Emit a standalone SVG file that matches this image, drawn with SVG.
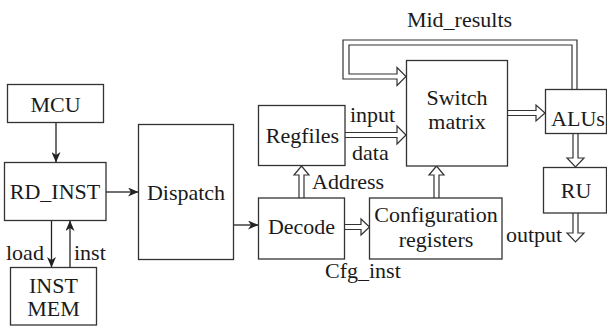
<svg xmlns="http://www.w3.org/2000/svg" width="607" height="326" viewBox="0 0 607 326">
  <defs>
    <marker id="ah" markerWidth="11" markerHeight="9" refX="10" refY="4.5" orient="auto" markerUnits="userSpaceOnUse">
      <path d="M0,0 L10.5,4.5 L0,9 L3,4.5 z" fill="#222"/>
    </marker>
    <style>
      .box { fill: #fff; stroke: #333; stroke-width: 1.3; }
      .lbl { font-size: 22px; fill: #1a1a1a; }
      .mid { text-anchor: middle; }
      .thin { fill: none; stroke: #222; stroke-width: 1.3; marker-end: url(#ah); }
      .bus { fill: #fff; stroke: #333; stroke-width: 1.2; stroke-linejoin: miter; }
    </style>
  </defs>
  <rect width="607" height="326" fill="#fff"/>

  <!-- connectors -->
  <g id="connectors">
    <!-- single-line control arrows -->
    <line class="thin" x1="56" y1="123" x2="56" y2="162"/>
    <line class="thin" x1="106" y1="192" x2="138" y2="192"/>
    <line class="thin" x1="233" y1="225" x2="258" y2="225"/>
    <line class="thin" x1="51.5" y1="221" x2="51.5" y2="267"/>
    <line class="thin" x1="70" y1="267" x2="70" y2="221"/>

    <!-- hollow bus arrows -->
    <!-- Mid_results feedback: ALUs back into Switch matrix -->
    <path class="bus" d="M577,89 V40 H343 V79 H397 V85.5 L406,76.5 L397,67.5 V74 H349 V45 H572 V89"/>
    <!-- Regfiles to Switch matrix -->
    <path class="bus" d="M345,132.5 H397 V126 L406,135 L397,144 V137.5 H345"/>
    <!-- Switch matrix to ALUs -->
    <path class="bus" d="M508,110.5 H536 V105 L545,113 L536,121 V115.5 H508"/>
    <!-- ALUs to RU -->
    <path class="bus" d="M573,133 V158 H567 L575.5,167 L584,158 H578 V133"/>
    <!-- RU output -->
    <path class="bus" d="M573,213 V233 H567 L575.5,242 L584,233 H578 V213"/>
    <!-- Decode to Regfiles (Address) -->
    <path class="bus" d="M299,198 V175 H294 L301.5,166 L309,175 H304 V198"/>
    <!-- Configuration registers to Switch matrix -->
    <path class="bus" d="M434,198 V175 H429 L436.5,166 L444,175 H439 V198"/>
    <!-- Decode to Configuration registers (Cfg_inst) -->
    <path class="bus" d="M345,224.5 H361 V219 L369.5,227 L361,235 V229.5 H345"/>
  </g>

  <g font-family="'Liberation Serif', 'DejaVu Serif', serif">
  <!-- nodes -->
  <g id="mcu">
    <rect class="box" x="7.5" y="84.5" width="96" height="38"/>
    <text class="lbl mid" x="55.5" y="112">MCU</text>
  </g>
  <g id="rd_inst">
    <rect class="box" x="4.5" y="162.5" width="101.5" height="58"/>
    <text class="lbl mid" x="55" y="199">RD_INST</text>
  </g>
  <g id="inst_mem">
    <rect class="box" x="10.5" y="267.5" width="86" height="57.5"/>
    <text class="lbl mid" x="53.5" y="293">INST</text>
    <text class="lbl mid" x="53.5" y="316">MEM</text>
  </g>
  <g id="dispatch">
    <rect class="box" x="138.5" y="124.5" width="95" height="135"/>
    <text class="lbl mid" x="186" y="200">Dispatch</text>
  </g>
  <g id="regfiles">
    <rect class="box" x="258.5" y="105.5" width="86.5" height="60"/>
    <text class="lbl mid" x="302.5" y="143">Regfiles</text>
  </g>
  <g id="decode">
    <rect class="box" x="258.5" y="198" width="86" height="61"/>
    <text class="lbl mid" x="301.5" y="234">Decode</text>
  </g>
  <g id="switch_matrix">
    <rect class="box" x="406.5" y="60.5" width="101" height="105.5"/>
    <text class="lbl mid" x="457" y="105">Switch</text>
    <text class="lbl mid" x="457" y="129">matrix</text>
  </g>
  <g id="config_registers">
    <rect class="box" x="369.5" y="198" width="132.5" height="61"/>
    <text class="lbl mid" x="436" y="222">Configuration</text>
    <text class="lbl mid" x="436" y="247">registers</text>
  </g>
  <g id="alus">
    <rect class="box" x="545.5" y="89.5" width="61" height="44"/>
    <text class="lbl mid" x="578" y="126">ALUs</text>
  </g>
  <g id="ru">
    <rect class="box" x="543.5" y="167.5" width="63" height="45.5"/>
    <text class="lbl mid" x="576" y="198">RU</text>
  </g>

  <!-- connector labels -->
  <g id="labels">
    <text class="lbl mid" x="459.5" y="27">Mid_results</text>
    <text class="lbl" x="350" y="122">input</text>
    <text class="lbl" x="352" y="160">data</text>
    <text class="lbl" x="312" y="189">Address</text>
    <text class="lbl" x="325" y="278">Cfg_inst</text>
    <text class="lbl" x="506" y="242">output</text>
    <text class="lbl" x="6" y="260">load</text>
    <text class="lbl" x="74" y="260">inst</text>
  </g>
  </g>
</svg>
